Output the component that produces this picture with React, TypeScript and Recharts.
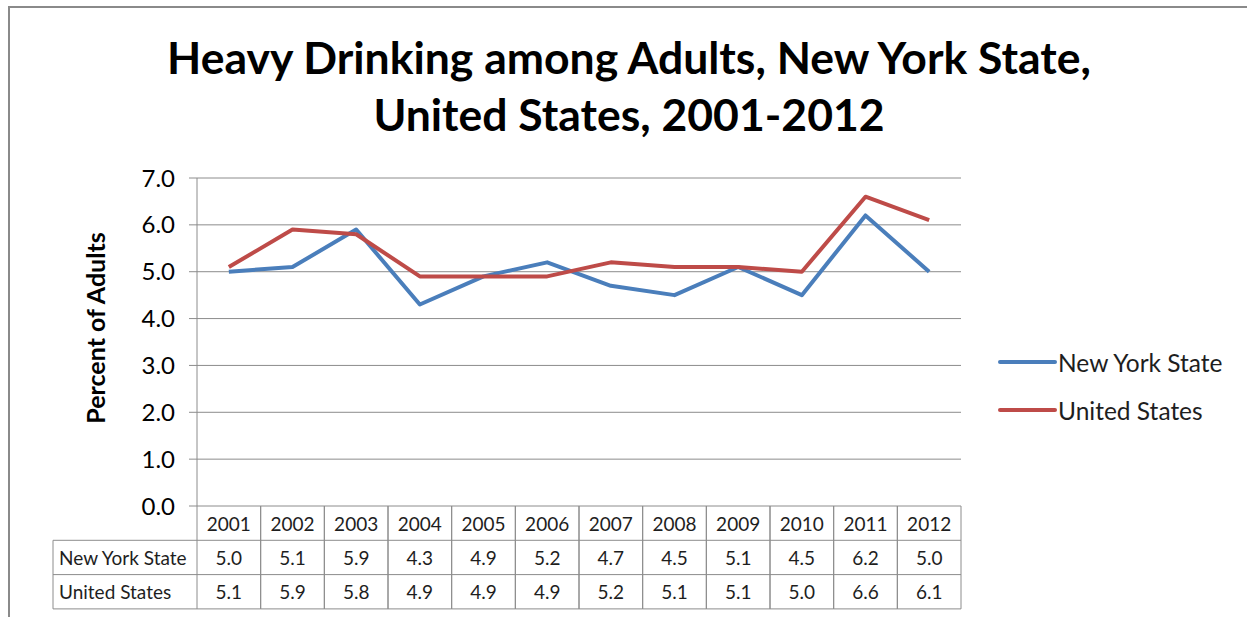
import React from 'react';
import { LineChart, Line, XAxis, YAxis, CartesianGrid, Legend } from 'recharts';

const years = ['2001', '2002', '2003', '2004', '2005', '2006', '2007', '2008', '2009', '2010', '2011', '2012'];
const nyValues = [5.0, 5.1, 5.9, 4.3, 4.9, 5.2, 4.7, 4.5, 5.1, 4.5, 6.2, 5.0];
const usValues = [5.1, 5.9, 5.8, 4.9, 4.9, 4.9, 5.2, 5.1, 5.1, 5.0, 6.6, 6.1];
const seriesNames = ['New York State', 'United States'];
const seriesColors = ['#4A7EBB', '#BE4B48'];
const yTicks = [0, 1, 2, 3, 4, 5, 6, 7];
const titleLines = ['Heavy Drinking among Adults, New York State,', 'United States, 2001-2012'];
const yLabel = 'Percent of Adults';

const data = years.map((year, i) => ({ year, ny: nyValues[i], us: usValues[i] }));

const W = 1247;
const H = 617;
const PLOT_LEFT = 197;
const PLOT_RIGHT = 961;
const PLOT_TOP = 178;
const PLOT_BOTTOM = 506;
const COL_W = (PLOT_RIGHT - PLOT_LEFT) / years.length;
const ROW_H = 34.3;
const LABEL_COL_W = 144;
const GRID = '#8c8c8c';
const FONT = 'Lato, "Open Sans", sans-serif';
const TEXT = '#1e1e1e';

const TableTick = (props: any) => {
  const { x, y, payload, index } = props;
  const left = x - COL_W / 2;
  const right = x + COL_W / 2;
  const rows = [payload.value, nyValues[index].toFixed(1), usValues[index].toFixed(1)];
  return (
    <g>
      <line x1={left} y1={y} x2={left} y2={y + ROW_H * 3} stroke={GRID} strokeWidth={1} />
      <line x1={right} y1={y} x2={right} y2={y + ROW_H * 3} stroke={GRID} strokeWidth={1} />
      {[1, 2, 3].map((r) => (
        <line key={r} x1={left} y1={y + ROW_H * r} x2={right} y2={y + ROW_H * r} stroke={GRID} strokeWidth={1} />
      ))}
      {rows.map((t, r) => (
        <text key={r} x={x} y={y + ROW_H * r + ROW_H / 2} textAnchor="middle" dominantBaseline="central" fontSize={19} fill={TEXT} fontFamily={FONT}>
          {t}
        </text>
      ))}
      {index === 0 && (
        <g>
          <line x1={left - LABEL_COL_W} y1={y + ROW_H} x2={left - LABEL_COL_W} y2={y + ROW_H * 3} stroke={GRID} strokeWidth={1} />
          {[1, 2, 3].map((r) => (
            <line key={r} x1={left - LABEL_COL_W} y1={y + ROW_H * r} x2={left} y2={y + ROW_H * r} stroke={GRID} strokeWidth={1} />
          ))}
          {seriesNames.map((n, r) => (
            <text key={n} x={left - LABEL_COL_W + 6} y={y + ROW_H * (r + 1) + ROW_H / 2} dominantBaseline="central" fontSize={19} fill={TEXT} fontFamily={FONT}>
              {n}
            </text>
          ))}
        </g>
      )}
    </g>
  );
};

const LegendContent = (props: any) => {
  const { payload } = props;
  return (
    <div style={{ fontFamily: FONT }}>
      {(payload || []).map((item: any) => (
        <div key={item.value} style={{ display: 'flex', alignItems: 'center', height: 48 }}>
          <svg width={60} height={8} style={{ display: 'block' }}>
            <line x1={2} y1={4} x2={57} y2={4} stroke={item.color} strokeWidth={4} strokeLinecap="round" />
          </svg>
          <span style={{ fontSize: 24.5, color: TEXT, marginLeft: 0 }}>{item.value}</span>
        </div>
      ))}
    </div>
  );
};

const YLabel = () => (
  <text
    x={95}
    y={328}
    transform="rotate(-90 95 328)"
    textAnchor="middle"
    dominantBaseline="central"
    fontSize={25}
    fontWeight="bold"
    fill="#000"
    fontFamily={FONT}
  >
    {yLabel}
  </text>
);

export default function App() {
  return (
    <div style={{ position: 'absolute', left: 0, top: 0, width: W, height: H, background: '#fff', fontFamily: FONT }}>
      <div
        style={{
          position: 'absolute',
          left: 8,
          top: 6,
          width: W,
          height: H,
          borderTop: '2px solid #8a8a8a',
          borderLeft: '2px solid #8a8a8a',
        }}
      />
      <div
        style={{
          position: 'absolute',
          left: 0,
          top: 28,
          width: 1258,
          textAlign: 'center',
          fontWeight: 'bold',
          fontSize: 44.5,
          lineHeight: '57px',
          color: '#000',
        }}
      >
        {titleLines.map((t) => (
          <div key={t}>{t}</div>
        ))}
      </div>
      <LineChart
        width={W}
        height={H}
        data={data}
        margin={{ top: PLOT_TOP, right: W - PLOT_RIGHT, bottom: 0, left: 0 }}
      >
        <CartesianGrid horizontal vertical={false} stroke={GRID} strokeWidth={1} />
        <XAxis
          dataKey="year"
          scale="band"
          height={H - PLOT_BOTTOM}
          axisLine={false}
          tickLine={false}
          tickSize={0}
          tickMargin={0}
          interval={0}
          tick={<TableTick />}
        />
        <YAxis
          width={PLOT_LEFT}
          domain={[0, 7]}
          ticks={yTicks}
          tickFormatter={(v: number) => v.toFixed(1)}
          axisLine={{ stroke: GRID }}
          tickLine={{ stroke: GRID }}
          tickSize={8}
          tickMargin={14}
          tick={{ fontSize: 24, fill: '#000', fontFamily: FONT }}
          label={<YLabel />}
        />
        <Legend
          layout="vertical"
          verticalAlign="middle"
          align="center"
          wrapperStyle={{ left: 998, top: 338, width: 245 }}
          content={<LegendContent />}
        />
        <Line
          name={seriesNames[0]}
          dataKey="ny"
          stroke={seriesColors[0]}
          strokeWidth={4}
          dot={false}
          strokeLinejoin="round"
          isAnimationActive={false}
        />
        <Line
          name={seriesNames[1]}
          dataKey="us"
          stroke={seriesColors[1]}
          strokeWidth={4}
          dot={false}
          strokeLinejoin="round"
          isAnimationActive={false}
        />
      </LineChart>
    </div>
  );
}
